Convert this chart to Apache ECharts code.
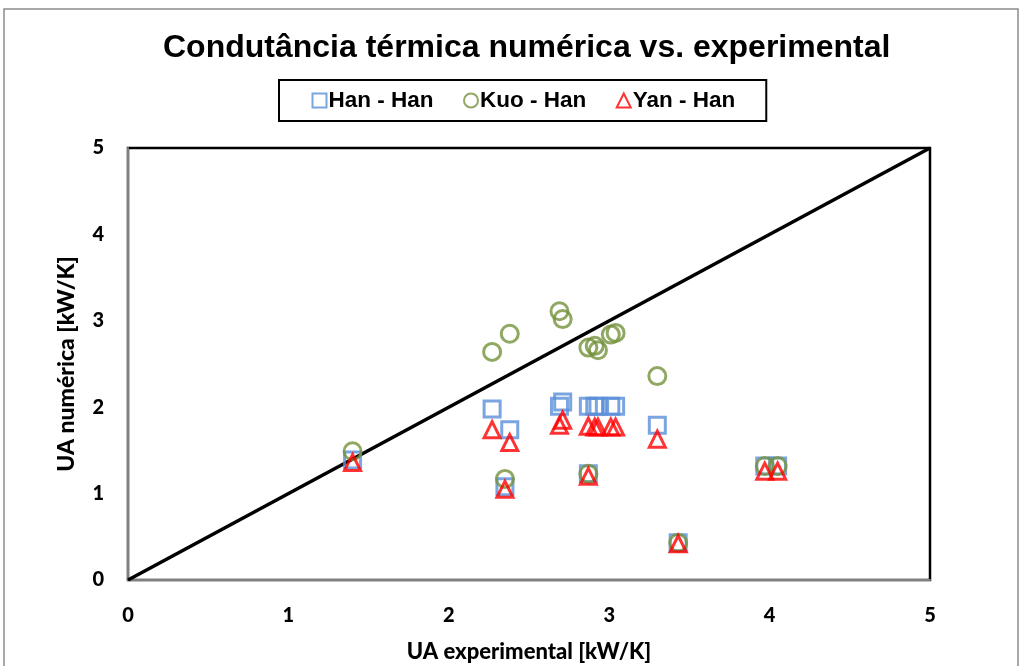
<!DOCTYPE html>
<html>
<head>
<meta charset="utf-8">
<script src="https://cdn.jsdelivr.net/npm/echarts@6/dist/echarts.min.js"></script>
<style>
  html, body { margin: 0; padding: 0; background: #fff; }
  #chart { width: 1022px; height: 666px; }
</style>
</head>
<body>
<div id="chart"></div>
<script>
// experimental UA [kW/K], shared by the three correlations
const uaExp = [1.40, 2.27, 2.35, 2.38, 2.69, 2.71, 2.87, 2.87, 2.91, 2.93, 3.01, 3.04, 3.30, 3.43, 3.97, 4.05]
const hanHan = [1.39, 1.98, 1.08, 1.74, 2.01, 2.06, 2.01, 1.23, 2.01, 2.01, 2.01, 2.01, 1.79, 0.43, 1.32, 1.32]
const kuoHan = [1.49, 2.64, 1.17, 2.85, 3.11, 3.02, 2.69, 1.23, 2.71, 2.66, 2.84, 2.86, 2.36, 0.43, 1.32, 1.32]
const yanHan = [1.36, 1.74, 1.05, 1.59, 1.79, 1.85, 1.78, 1.20, 1.77, 1.77, 1.77, 1.77, 1.63, 0.42, 1.26, 1.26]
const diagonal = [[0, 0], [5, 5]]

const pairs = ys => uaExp.map((x, i) => [x, ys[i]])

const chart = echarts.init(document.getElementById('chart'))
const bold = { fontFamily: 'Lato', fontWeight: 900, color: '#000' }

chart.setOption({
  animation: false,
  title: {
    text: 'Condutância térmica numérica vs. experimental',
    left: 163,
    top: 32,
    padding: 0,
    textStyle: { fontFamily: 'Liberation Sans', fontWeight: 'bold', fontSize: 32, color: '#000' }
  },
  legend: {
    top: 80,
    left: 279,
    padding: [9, 31],
    borderColor: '#000',
    borderWidth: 2,
    itemGap: 28,
    itemWidth: 14,
    itemHeight: 14,
    textStyle: { fontFamily: 'Liberation Sans', fontWeight: 'bold', fontSize: 22.5, color: '#000', padding: [0, 0, 0, -3] },
    data: [
      { name: 'Han - Han', icon: 'rect' },
      { name: 'Kuo - Han', icon: 'circle' },
      { name: 'Yan - Han', icon: 'triangle' }
    ]
  },
  graphic: [{
    type: 'rect',
    shape: { x: 4, y: 9, width: 1014, height: 680 },
    style: { fill: 'none', stroke: '#8c8c8c', lineWidth: 1.5 },
    silent: true
  }],
  grid: {
    left: 128, right: 92, top: 148, bottom: 86,
    outerBoundsMode: 'none',
    show: true, borderColor: '#000', borderWidth: 2.5
  },
  xAxis: {
    type: 'value', min: 0, max: 5, interval: 1,
    name: 'UA experimental [kW/K]',
    nameLocation: 'middle', nameGap: 61,
    nameTextStyle: Object.assign({ fontSize: 22 }, bold),
    axisLine: { lineStyle: { color: '#808080', width: 2 } },
    axisTick: { show: false },
    splitLine: { show: false },
    axisLabel: Object.assign({ fontSize: 20, margin: 26 }, bold)
  },
  yAxis: {
    type: 'value', min: 0, max: 5, interval: 1,
    name: 'UA numérica [kW/K]',
    nameLocation: 'middle', nameGap: 50,
    nameTextStyle: Object.assign({ fontSize: 23 }, bold),
    axisLine: { show: true, lineStyle: { color: '#808080', width: 2 } },
    axisTick: { show: false },
    splitLine: { show: false },
    axisLabel: Object.assign({ fontSize: 20, margin: 24 }, bold)
  },
  series: [
    {
      type: 'line', data: diagonal, symbol: 'none', silent: true,
      lineStyle: { color: '#000', width: 3.5 }, z: 1
    },
    {
      name: 'Han - Han', type: 'scatter', symbol: 'rect', symbolSize: 16,
      data: pairs(hanHan),
      itemStyle: { color: 'none', borderColor: '#5a8fd8', borderWidth: 3 }
    },
    {
      name: 'Kuo - Han', type: 'scatter', symbol: 'circle', symbolSize: 17,
      data: pairs(kuoHan),
      itemStyle: { color: 'none', borderColor: '#76923c', borderWidth: 3 }
    },
    {
      name: 'Yan - Han', type: 'scatter', symbol: 'triangle', symbolSize: 16,
      data: pairs(yanHan),
      itemStyle: { color: 'none', borderColor: '#ff0000', borderWidth: 3 }
    }
  ]
})
</script>
</body>
</html>
